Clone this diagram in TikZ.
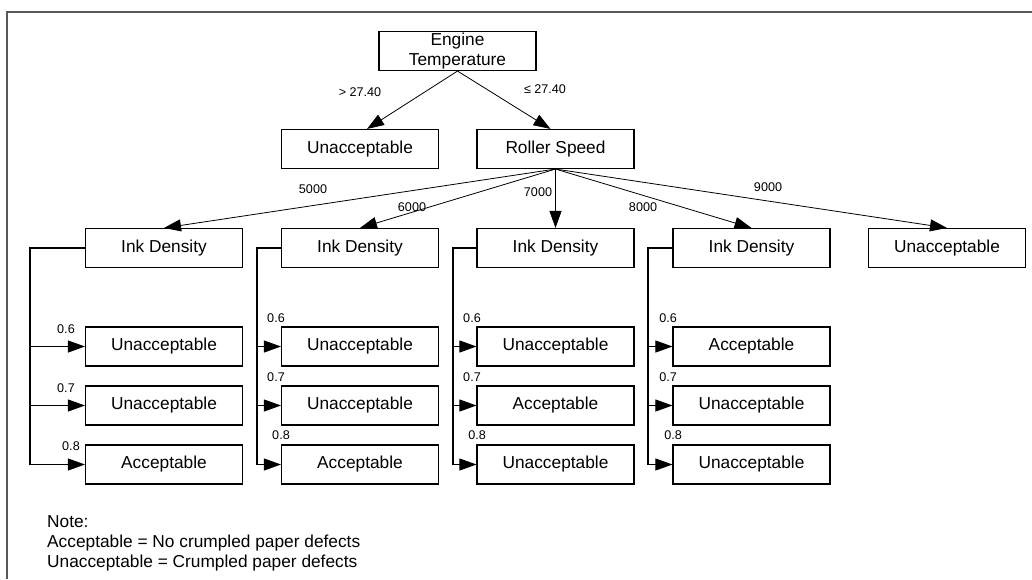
\documentclass[tikz,border=0pt]{standalone}
\usepackage{fontspec}
\setmainfont{Liberation Sans}
\usetikzlibrary{arrows.meta}
\begin{document}
\begin{tikzpicture}[x=1pt,y=-1pt,
  box/.style={draw, line width=1.1pt, minimum width=157pt, minimum height=39pt,
    inner sep=0pt, font=\fontsize{17.3}{20}\selectfont, align=center},
  lbl/.style={font=\fontsize{12.6}{14}\selectfont, inner sep=0pt},
  arr/.style={draw, line width=0.8pt, -{Triangle[length=17pt,width=12pt]}},
  link/.style={draw, line width=1.1pt}]
\useasboundingbox (0,0) rectangle (1032,579);
% page frame (top and left edges only)
\draw[line width=2pt, black!65] (7,579) -- (7,12) -- (1032,12);

% root and first split
\node[box] (et) at (457.5,51) {Engine\\Temperature};
\node[box] (u1) at (360,149) {Unacceptable};
\node[box] (rs) at (555.5,149) {Roller Speed};
\draw[arr] (et.south) -- ([xshift=7pt]u1.north);
\draw[arr] (et.south) -- ([xshift=-5pt]rs.north);
\node[lbl] at (360,92) {> 27.40};
\node[lbl] at (545,89) {≤ 27.40};

% roller speed split
\node[box] (id1) at (164,248) {Ink Density};
\node[box] (id2) at (360,248) {Ink Density};
\node[box] (id3) at (555.5,248) {Ink Density};
\node[box] (id4) at (751.5,248) {Ink Density};
\node[box] (u2) at (947,248) {Unacceptable};
\foreach \t in {id1,id2,id3,id4,u2}
  \draw[arr] (rs.south) -- (\t.north);
\node[lbl] at (313,189) {5000};
\node[lbl] at (412,207) {6000};
\node[lbl] at (538,192) {7000};
\node[lbl] at (643,207) {8000};
\node[lbl] at (768,187) {9000};

% ink density leaves
\foreach \c/\x/\bx/\ra/\rb/\rc in {
    1/164/30/Unacceptable/Unacceptable/Acceptable,
    2/360/257/Unacceptable/Unacceptable/Acceptable,
    3/555.5/453/Unacceptable/Acceptable/Unacceptable,
    4/751.5/648/Acceptable/Unacceptable/Unacceptable} {
  \node[box] (l\c a) at (\x,346.5) {\ra};
  \node[box] (l\c b) at (\x,405.5) {\rb};
  \node[box] (l\c c) at (\x,464.5) {\rc};
  \coordinate (k\c) at (\bx,248);
  \draw[link] (id\c.west) -- (k\c) -- (k\c |- l\c c.west);
  \draw[arr] (k\c |- l\c a.west) -- (l\c a.west);
  \draw[arr] (k\c |- l\c b.west) -- (l\c b.west);
  \draw[arr] (k\c |- l\c c.west) -- (l\c c.west);
}

% branch values
\node[lbl] at (66,329) {0.6};
\node[lbl] at (66,388) {0.7};
\node[lbl] at (71,446) {0.8};
\foreach \lx in {276,472,668} {
  \node[lbl] at (\lx,318) {0.6};
  \node[lbl] at (\lx,377) {0.7};
  \node[lbl] at (\lx+5,435) {0.8};
}

% legend
\node[anchor=west, align=left, inner sep=0pt, font=\fontsize{17.3}{20}\selectfont]
  (note) at (47,543) {Note:\\Acceptable = No crumpled paper defects\\Unacceptable = Crumpled paper defects};
\end{tikzpicture}
\end{document}
